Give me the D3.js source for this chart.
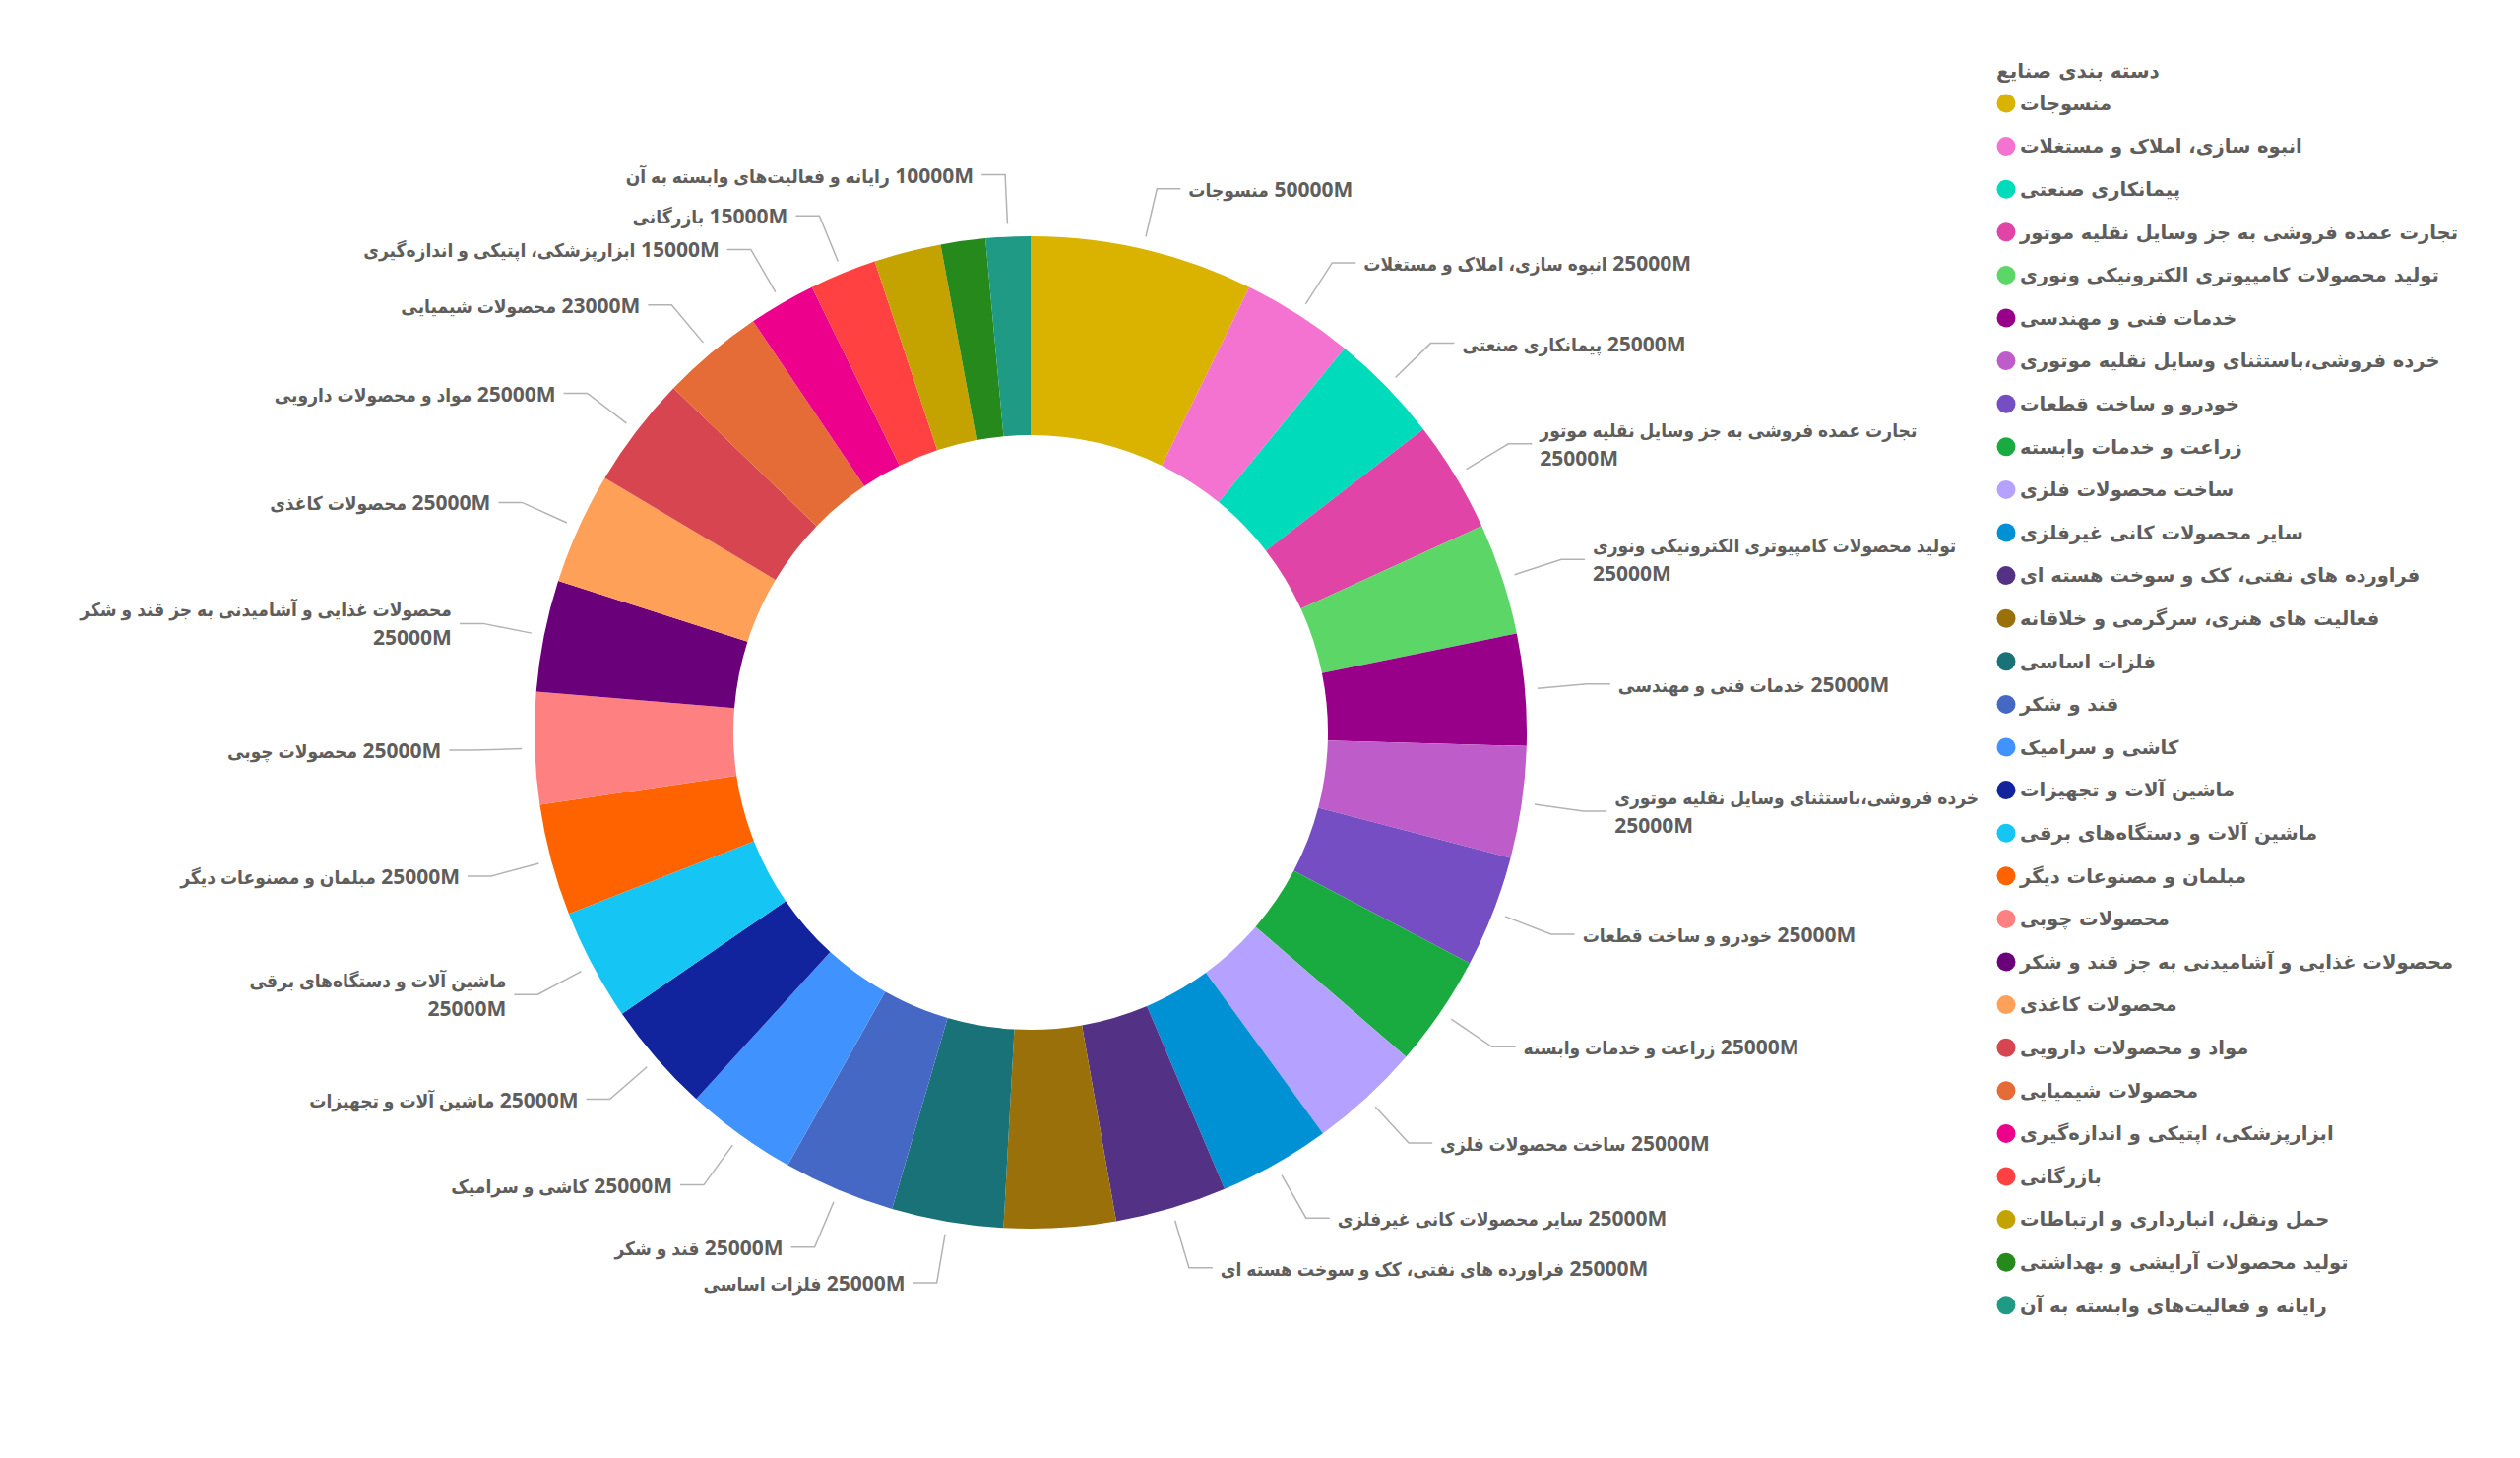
<!DOCTYPE html>
<html>
<head>
<meta charset="utf-8">
<script src="https://cdn.jsdelivr.net/npm/d3@7"></script>
<style>
  html, body { margin: 0; padding: 0; background: #fff; }
  svg { display: block; }
</style>
</head>
<body>
<svg id="chart"></svg>
<script>
// ── Data ────────────────────────────────────────────────────────────────────
const categories = [
  'منسوجات',
  'انبوه سازی، املاک و مستغلات',
  'پیمانکاری صنعتی',
  'تجارت عمده فروشی به جز وسایل نقلیه موتور',
  'تولید محصولات کامپیوتری الکترونیکی ونوری',
  'خدمات فنی و مهندسی',
  'خرده فروشی،باستثنای وسایل نقلیه موتوری',
  'خودرو و ساخت قطعات',
  'زراعت و خدمات وابسته',
  'ساخت محصولات فلزی',
  'سایر محصولات کانی غیرفلزی',
  'فراورده های نفتی، کک و سوخت هسته ای',
  'فعالیت های هنری، سرگرمی و خلاقانه',
  'فلزات اساسی',
  'قند و شکر',
  'کاشی و سرامیک',
  'ماشین آلات و تجهیزات',
  'ماشین آلات و دستگاه‌های برقی',
  'مبلمان و مصنوعات دیگر',
  'محصولات چوبی',
  'محصولات غذایی و آشامیدنی به جز قند و شکر',
  'محصولات کاغذی',
  'مواد و محصولات دارویی',
  'محصولات شیمیایی',
  'ابزارپزشکی، اپتیکی و اندازه‌گیری',
  'بازرگانی',
  'حمل ونقل، انبارداری و ارتباطات',
  'تولید محصولات آرایشی و بهداشتی',
  'رایانه و فعالیت‌های وابسته به آن'
];

const values = [
  50000, 25000, 25000, 25000, 25000, 25000, 25000, 25000, 25000, 25000,
  25000, 25000, 25000, 25000, 25000, 25000, 25000, 25000, 25000, 25000,
  25000, 25000, 25000, 23000, 15000, 15000, 15000, 10000, 10000
];

const colors = [
  '#D9B300', '#F472D0', '#00DBBC', '#E044A7', '#5BD667', '#99008A', '#BE5DC9',
  '#744EC2', '#1AAB40', '#B5A1FF', '#0091D5', '#533285', '#99700A', '#197278',
  '#4668C5', '#4092FF', '#12239E', '#15C6F4', '#FF6300', '#FF8080', '#6B007B',
  '#FFA058', '#D64550', '#E66C37', '#EC008C', '#FF4141', '#C4A200', '#25891C',
  '#1F9A85'
];

const legendTitle = 'دسته بندی صنایع';

// labels the original visual dropped, and the ones it broke onto two lines
const hiddenLabels = [
  'فعالیت های هنری، سرگرمی و خلاقانه',
  'حمل ونقل، انبارداری و ارتباطات',
  'تولید محصولات آرایشی و بهداشتی'
];
const wrappedLabels = [
  'تجارت عمده فروشی به جز وسایل نقلیه موتور',
  'تولید محصولات کامپیوتری الکترونیکی ونوری',
  'خرده فروشی،باستثنای وسایل نقلیه موتوری',
  'ماشین آلات و دستگاه‌های برقی',
  'محصولات غذایی و آشامیدنی به جز قند و شکر'
];

// ── Layout ──────────────────────────────────────────────────────────────────
const W = 2560, H = 1481;
const CX = 1047, CY = 744;
const R_OUT = 504, R_IN = 302;
const TEXT_COLOR = '#605E5C';
const LINE_COLOR = '#B3B3B3';
const LABEL_FONT = "'Open Sans', 'DejaVu Sans Condensed', 'DejaVu Sans', sans-serif";
const LEGEND_FONT = "'DejaVu Sans', sans-serif";

const svg = d3.select('#chart').attr('width', W).attr('height', H);

const g = svg.append('g').attr('transform', `translate(${CX},${CY})`);

const rows = categories.map((c, i) => ({ cat: c, value: values[i], color: colors[i] }));

const pie = d3.pie().sort(null).value(d => d.value);
const arc = d3.arc().innerRadius(R_IN).outerRadius(R_OUT);
const arcs = pie(rows);

g.append('g').attr('class', 'slices')
  .selectAll('path')
  .data(arcs)
  .join('path')
  .attr('d', arc)
  .attr('fill', d => d.data.color);

// ── Data labels with leader lines ───────────────────────────────────────────
const labelArcs = arcs.filter(d => !hiddenLabels.includes(d.data.cat));
const lineStart = d3.arc().innerRadius(R_OUT + 13).outerRadius(R_OUT + 13);
const lineBend = d3.arc().innerRadius(R_OUT + 63).outerRadius(R_OUT + 63);

const labels = g.append('g').attr('class', 'labels');

labelArcs.forEach(d => {
  const mid = (d.startAngle + d.endAngle) / 2;
  const right = Math.sin(mid) >= 0;
  const dir = right ? 1 : -1;
  const p1 = lineStart.centroid(d);
  const p2 = lineBend.centroid(d);
  const p3 = [p2[0] + dir * 24, p2[1]];

  labels.append('polyline')
    .attr('points', [p1, p2, p3].map(p => p.join(',')).join(' '))
    .attr('fill', 'none')
    .attr('stroke', LINE_COLOR)
    .attr('stroke-width', 1.5);

  const tx = p3[0] + dir * 8;
  const txt = labels.append('text')
    .attr('x', tx)
    .attr('y', p3[1])
    .attr('text-anchor', right ? 'start' : 'end')
    .attr('fill', TEXT_COLOR)
    .attr('font-family', LABEL_FONT)
    .attr('font-weight', 700);

  const valText = d.data.value + 'M';
  if (wrappedLabels.includes(d.data.cat)) {
    txt.append('tspan')
      .attr('x', tx).attr('dy', -7)
      .attr('font-size', 19)
      .text(d.data.cat);
    txt.append('tspan')
      .attr('x', tx).attr('dy', 29)
      .attr('font-size', 21)
      .text(valText);
  } else {
    txt.attr('dy', 8);
    txt.append('tspan')
      .attr('font-size', 19)
      .text(d.data.cat);
    txt.append('tspan')
      .attr('font-size', 21)
      .text(' \u200E' + valText);
  }
});

// ── Legend ──────────────────────────────────────────────────────────────────
const legend = svg.append('g').attr('class', 'legend');

legend.append('text')
  .attr('x', 2028)
  .attr('y', 72)
  .attr('dy', '0.35em')
  .attr('fill', TEXT_COLOR)
  .attr('font-family', LEGEND_FONT)
  .attr('font-weight', 700)
  .attr('font-size', 20)
  .text(legendTitle);

const items = legend.selectAll('g.item')
  .data(rows)
  .join('g')
  .attr('class', 'item')
  .attr('transform', (d, i) => `translate(0,${105 + i * 43.6})`);

items.append('circle')
  .attr('cx', 2038)
  .attr('cy', 0)
  .attr('r', 9.5)
  .attr('fill', d => d.color);

items.append('text')
  .attr('x', 2052)
  .attr('y', 0)
  .attr('dy', '0.35em')
  .attr('fill', TEXT_COLOR)
  .attr('font-family', LEGEND_FONT)
  .attr('font-weight', 700)
  .attr('font-size', 19.5)
  .text(d => d.cat);
</script>
</body>
</html>
